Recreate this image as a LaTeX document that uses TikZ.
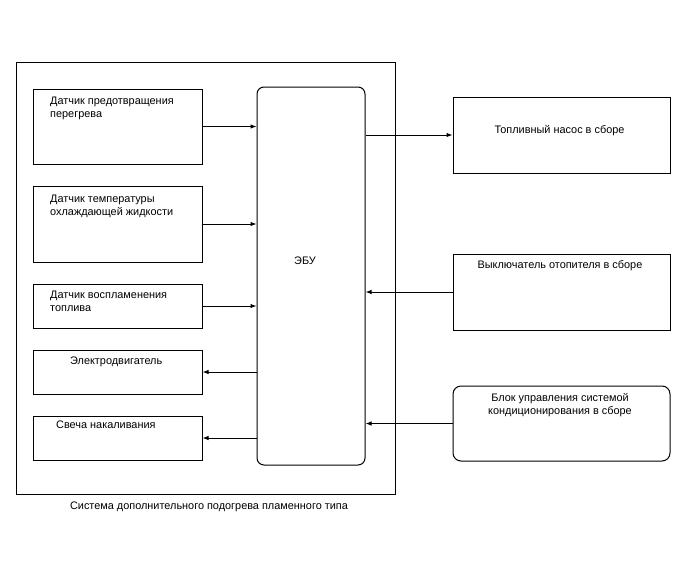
\documentclass[tikz,border=0pt]{standalone}
\usepackage{fontspec}
\setmainfont{Liberation Sans}
\usetikzlibrary{arrows.meta}
\begin{document}
\begin{tikzpicture}[x=1pt,y=-1pt,
  lw/.style={line width=1pt},
  box/.style={draw, lw, minimum width=169pt, inner sep=0pt},
  rbox/.style={draw, lw, minimum width=217pt, minimum height=76pt, inner sep=0pt},
  fnt/.style={font=\fontsize{10.9}{13}\selectfont},
  txt/.style={fnt, align=left, inner sep=0pt, anchor=north west},
  arr/.style={lw, -{Latex[length=6pt,width=4.5pt]}}]
\useasboundingbox (0,0) rectangle (688,560);
\node[draw, lw, minimum width=379pt, minimum height=432pt, inner sep=0pt] (frame) at (205.5,278) {};
\node[fnt] (cap) at (209,507) {Система дополнительного подогрева пламенного типа};
\node[draw, lw, rounded corners=7pt, minimum width=108pt, minimum height=378pt, inner sep=0pt] (ecu) at (311,276) {};
\node[fnt] (ecut) at (305,261) {ЭБУ};
\node[box, minimum height=75pt] (s1) at (117.5,126.5) {};
\node[box, minimum height=76pt] (s2) at (117.5,224) {};
\node[box, minimum height=44pt] (s3) at (117.5,306) {};
\node[box, minimum height=44pt] (s4) at (117.5,372) {};
\node[box, minimum height=44pt] (s5) at (117.5,438) {};
\node[txt] (t1) at (50,96.5) {Датчик предотвращения\\перегрева};
\node[txt] (t2) at (50,194.5) {Датчик температуры\\охлаждающей жидкости};
\node[txt] (t3) at (50,290.5) {Датчик воспламенения\\топлива};
\node[txt] (t4) at (70,356.5) {Электродвигатель};
\node[txt] (t5) at (56,420.5) {Свеча накаливания};
\node[rbox] (r1) at (561.5,135) {};
\node[rbox] (r2) at (561.5,292) {};
\node[rbox, rounded corners=8pt, minimum height=75pt] (r3) at (561.5,423.5) {};
\node[fnt, inner sep=0pt] (rt1) at (559.5,131) {Топливный насос в сборе};
\node[fnt, inner sep=0pt] (rt2) at (560,266) {Выключатель отопителя в сборе};
\node[fnt, align=center, inner sep=0pt] (rt3) at (560,405.5) {Блок управления системой\\кондиционирования в сборе};
\draw[arr] (s1.east) -- (s1.east -| ecu.west);
\draw[arr] (s2.east) -- (s2.east -| ecu.west);
\draw[arr] (s3.east) -- (s3.east -| ecu.west);
\draw[arr] (s4.east -| ecu.west) -- (s4.east);
\draw[arr] (s5.east -| ecu.west) -- (s5.east);
\draw[arr] (r1.west -| ecu.east) -- (r1.west);
\draw[arr] (r2.west) -- (r2.west -| ecu.east);
\draw[arr] (r3.west) -- (r3.west -| ecu.east);
\end{tikzpicture}
\end{document}
